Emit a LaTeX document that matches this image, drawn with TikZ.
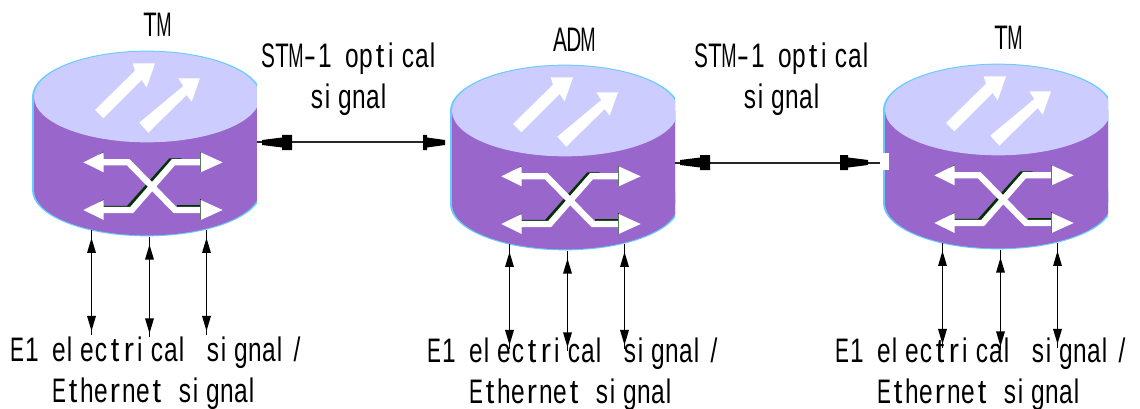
\documentclass[tikz,border=0pt]{standalone}
\usepackage{fontspec}
\usepackage{graphicx}
\usetikzlibrary{arrows.meta}
\newfontfamily\labelfont[FakeStretch=0.72]{Liberation Sans}
\definecolor{bodyc}{HTML}{9966CC}
\definecolor{topc}{HTML}{CCCCFF}
\definecolor{rimc}{HTML}{66CCFF}
\definecolor{shadec}{HTML}{003300}
% fixed-width character cells, as the reference sets its text
\def\cl#1{\makebox[14pt][l]{\hspace*{1pt}#1}}
\def\cc#1{\makebox[14pt][c]{#1}}
\def\cs#1#2{\makebox[14pt][c]{\scalebox{#1}[1]{#2}}}
\def\cellof#1{%
  \ifx#1i\cl{#1}\else\ifx#1l\cl{#1}\else\ifx#11\cl{#1}\else
  \ifx#1t\cs{1.25}{#1}\else\ifx#1r\cs{1.25}{#1}\else\ifx#1-\cs{1.5}{#1}\else
  \ifx#1M\cs{0.75}{#1}\else\ifx#1A\cs{0.85}{#1}\else\ifx#1D\cs{0.85}{#1}\else
  \ifx#1S\cs{0.85}{#1}\else\ifx#1E\cs{0.85}{#1}\else\ifx#1T\cs{0.9}{#1}\else
  \cc{#1}\fi\fi\fi\fi\fi\fi\fi\fi\fi\fi\fi\fi}
\def\cw#1{\cwA#1\relax}
\def\cwA#1{\ifx#1\relax\else\cellof{#1}\expandafter\cwA\fi}
\def\cg{\hspace*{14pt}}
\tikzset{
  lab/.style={font=\labelfont\fontsize{34}{41}\selectfont,align=center,inner sep=0pt,text=black},
  anchorbox/.style={minimum width=225pt,minimum height=187pt,inner sep=0pt},
  sw/.style={white,line width=6.3pt,line join=miter},
  swshade/.style={shadec,line width=6pt},
  tribs/.style={draw=black,line width=1.5pt},
  optical/.style={draw=black!85,line width=2pt}
}
\newcommand{\device}[3]{% name, dx, dy
  \node[anchorbox] (#1) at (#2pt+144.5pt,-#3pt-143.5pt) {};
  \begin{scope}[shift={(#2pt,-#3pt)},x=0.33333pt,y=-0.33333pt]
    \begin{scope}
      \clip (90,140) rectangle (771,720);
      \fill[rimc] (441,570) ellipse[x radius=345,y radius=139];
      \fill[rimc] (96,290) rectangle (786,570);
      \fill[rimc] (441,291) ellipse[x radius=345,y radius=139];
      \fill[bodyc] (441,570) ellipse[x radius=339,y radius=136];
      \fill[bodyc] (102,291) rectangle (780,570);
      \fill[topc] (441,291) ellipse[x radius=339,y radius=136];
    \end{scope}
    \fill[white] (285,330) -- (405,212) -- (398,190) -- (465,190) -- (440,262) -- (425,240) -- (310,355) -- cycle;
    \fill[white] (418,368) -- (550,258) -- (535,235) -- (600,235) -- (575,305) -- (560,285) -- (445,398) -- cycle;
    \draw[swshade] (300,627) -- (385,627) -- (512,484) -- (545,484);
    \draw[swshade] (530,625) -- (600,625);
    \draw[sw] (300,487) -- (385,487) -- (525,630) -- (610,630);
    \draw[sw] (300,630) -- (395,630) -- (520,487) -- (610,487);
    \foreach \yy in {487,630}{
      \fill[shadec] (311,\yy-32) -- (296,\yy-22) -- (311,\yy-22) -- cycle;
      \fill[shadec] (600,\yy-32) rectangle (603,\yy+29);
      \fill[white] (250,\yy) -- (311,\yy-30) -- (311,\yy+30) -- cycle;
      \fill[white] (668,\yy) -- (602,\yy-30) -- (602,\yy+30) -- cycle;
    }
    \coordinate (#1-E) at (771,429);
    \coordinate (#1-a) at (274.5,690);
    \coordinate (#1-b) at (448.5,710);
    \coordinate (#1-c) at (619.5,690);
    \coordinate (#1-a2) at (274.5,1005);
    \coordinate (#1-b2) at (448.5,1012);
    \coordinate (#1-c2) at (619.5,1005);
  \end{scope}
}
\begin{document}
\begin{tikzpicture}[x=1pt,y=1pt]
  \useasboundingbox[fill=white] (0,0) rectangle (1140,-409);
  \device{dA}{0}{0}
  \device{dB}{418}{14}
  \device{dC}{851}{13}

  \node[lab] (tA) at (157,-25) {\cw{TM}};
  \node[lab] (tB) at (574,-40) {\cw{ADM}};
  \node[lab] (tC) at (1008,-38) {\cw{TM}};
  \node[lab] (sA) at (352,-79) {\cw{STM-1}\cg\cw{optical}\\\cw{signal}};
  \node[lab] (sB) at (785,-79) {\cw{STM-1}\cg\cw{optical}\\\cw{signal}};
  \node[lab] (eA) at (157,-373) {\cw{E1}\cg\cw{electrical}\cg\cw{signal/}\\\cw{Ethernet}\cg\cw{signal}};
  \node[lab] (eB) at (574,-374) {\cw{E1}\cg\cw{electrical}\cg\cw{signal/}\\\cw{Ethernet}\cg\cw{signal}};
  \node[lab] (eC) at (982,-374) {\cw{E1}\cg\cw{electrical}\cg\cw{signal/}\\\cw{Ethernet}\cg\cw{signal}};

  % optical links
  \coordinate (dBw) at (445,-142.5);
  \coordinate (dCw) at (881,-162.5);
  \draw[optical] (dA-E |- dBw) -- (dBw);
  \draw[optical] (dB-E |- dCw) -- (dCw);
  \fill[white] (880,-153) rectangle (889,-170);
  \foreach \xa/\xm/\xb/\yy in {262/282/292/142.5,445/427/423/142.5,680/700/710/162.5,868/848/840/162.5}{
    \fill[black] (\xa,-\yy+2.5) -- (\xm,-\yy+5) -- (\xm,-\yy+7.5) -- (\xb,-\yy+7.5) -- (\xb,-\yy-7.5) -- (\xm,-\yy-7.5) -- (\xm,-\yy-5) -- (\xa,-\yy-2.5) -- cycle;
  }
  % tributary links
  \foreach \d in {dA,dB,dC}{
    \foreach \k in {a,b,c}{
      \draw[tribs] (\d-\k) -- (\d-\k2);
      \path (\d-\k) ++(0,-8) coordinate (u) ++(0,-15) coordinate (v);
      \path (\d-\k2) ++(0,4) coordinate (p) ++(0,15) coordinate (q);
      \fill[black] (u) -- ([xshift=-4.5pt]v) -- ([xshift=4.5pt]v) -- cycle;
      \fill[black] (p) -- ([xshift=-4.5pt]q) -- ([xshift=4.5pt]q) -- cycle;
    }
  }
\end{tikzpicture}
\end{document}
